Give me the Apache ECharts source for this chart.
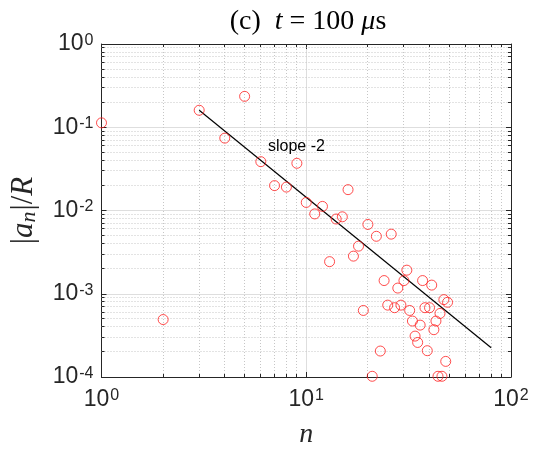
<!DOCTYPE html>
<html><head><meta charset="utf-8">
<script src="https://cdn.jsdelivr.net/npm/echarts@6/dist/echarts.min.js"></script>
<style>html,body{margin:0;padding:0;background:#fff}#c{width:534px;height:456px}</style>
</head><body><div id="c"></div>
<script>
// ---- data ----
const modeN = [1,2,3,4,5,6,7,8,9,10,11,12,13,14,15,16,17,18,19,20,21,22,23,24,25,26,27,28,29,30,31,32,33,34,35,36,37,38,39,40,41,42,43,44,45,46,47,48,49];
const amplitude = [0.113,0.00049,0.16,0.074,0.235,0.0386,0.0199,0.0191,0.0369,0.0125,0.0091,0.0112,0.00243,0.0079,0.0084,0.0178,0.00283,0.00373,0.00063,0.0068,0.000102,0.0049,0.000205,0.00144,0.00073,0.0052,0.00068,0.00117,0.00073,0.00144,0.00192,0.00063,0.00047,0.00031,0.00026,0.00042,0.00144,0.00068,0.000207,0.00068,0.00127,0.00037,0.00047,0.000102,0.00058,0.000102,0.00085,0.000154,0.00079];
const slopeN = [3, 80];
const slopeA = [0.16, 0.000225];
const slopeLabel = 'slope -2';
const slopeLabelAt = [6.5, 0.058];
const xTickValues = [1, 10, 100];
const xTickExp = ['0', '1', '2'];
const yTickValues = [1e-4, 1e-3, 1e-2, 1e-1, 1];
const yTickExp = ['-4', '-3', '-2', '-1', '0'];
const xMinor = [2,3,4,5,6,7,8,9,20,30,40,50,60,70,80,90];
const yMinor = [2e-4,3e-4,4e-4,5e-4,6e-4,7e-4,8e-4,9e-4,2e-3,3e-3,4e-3,5e-3,6e-3,7e-3,8e-3,9e-3,2e-2,3e-2,4e-2,5e-2,6e-2,7e-2,8e-2,9e-2,0.2,0.3,0.4,0.5,0.6,0.7,0.8,0.9];
const X_MIN = 1, X_MAX = 100, Y_MIN = 1e-4, Y_MAX = 1;

// ---- styles ----
const AX = '#262626';
const SANS = 'Liberation Sans';
const SERIF = 'Liberation Serif';
const tickRich = {
  b: {fontSize: 23, fontFamily: SANS, color: AX, lineHeight: 23, verticalAlign: 'bottom'},
  s: {fontSize: 16, fontFamily: SANS, color: AX, lineHeight: 16, verticalAlign: 'top', padding: [0, 0, 12, 1]}
};
function fmt(values, exps) {
  return function (v) {
    let idx = 0, best = Infinity;
    values.forEach((t, i) => { const d = Math.abs(Math.log10(t) - Math.log10(v)); if (d < best) { best = d; idx = i; } });
    return '{b|10}{s|' + exps[idx] + '}';
  };
}
const snap = v => Math.round(v - 0.5) + 0.5;

function minorRender(isX) {
  return function (params, api) {
    const v = api.value(isX ? 0 : 1);
    let p1, p2;
    if (isX) { p1 = api.coord([v, Y_MIN]); p2 = api.coord([v, Y_MAX]); }
    else { p1 = api.coord([X_MIN, v]); p2 = api.coord([X_MAX, v]); }
    const c = isX ? snap(p1[0]) : snap(p1[1]);
    const children = [];
    if (isX) {
      children.push({type: 'line', shape: {x1: c, y1: p1[1], x2: c, y2: p2[1]}, style: {stroke: '#c6c6c6', lineWidth: 1, lineDash: [1, 2]}});
      children.push({type: 'line', shape: {x1: c, y1: p1[1], x2: c, y2: p1[1] - 3}, style: {stroke: AX, lineWidth: 1}});
      children.push({type: 'line', shape: {x1: c, y1: p2[1], x2: c, y2: p2[1] + 3}, style: {stroke: AX, lineWidth: 1}});
    } else {
      children.push({type: 'line', shape: {x1: p1[0], y1: c, x2: p2[0], y2: c}, style: {stroke: '#c6c6c6', lineWidth: 1, lineDash: [1, 2]}});
      children.push({type: 'line', shape: {x1: p1[0], y1: c, x2: p1[0] + 3, y2: c}, style: {stroke: AX, lineWidth: 1}});
      children.push({type: 'line', shape: {x1: p2[0], y1: c, x2: p2[0] - 3, y2: c}, style: {stroke: AX, lineWidth: 1}});
    }
    return {type: 'group', children};
  };
}

const axisCommon = {
  type: 'log', logBase: 10,
  axisLine: {show: true, onZero: false, lineStyle: {color: AX, width: 1}},
  axisTick: {show: true, inside: true, length: 5, lineStyle: {color: AX, width: 1}},
  minorTick: {show: false}, minorSplitLine: {show: false}
};

const TF = 28;
const chart = echarts.init(document.getElementById('c'), null, {renderer: 'canvas'});
chart.setOption({
  animation: false,
  backgroundColor: '#ffffff',
  title: {
    text: '{r|(c)  }{i|t}{r| = 100 }{i|μ}{r|s}',
    left: 303, top: 3, textAlign: 'center',
    textStyle: {
      fontWeight: 'normal',
      rich: {
        r: {fontSize: TF, fontFamily: SERIF, fontWeight: 'normal', color: '#000'},
        i: {fontSize: TF, fontFamily: SERIF, fontWeight: 'normal', fontStyle: 'italic', color: '#000'}
      }
    }
  },
  grid: {left: 101, right: 23, top: 44, bottom: 79},
  xAxis: [
    Object.assign({}, axisCommon, {
      min: X_MIN, max: X_MAX, position: 'bottom',
      axisLabel: {show: true, margin: 11, formatter: fmt(xTickValues, xTickExp), rich: tickRich},
      splitLine: {show: true, lineStyle: {color: '#dedede', width: 1}},
      name: 'n', nameLocation: 'middle', nameGap: 44,
      nameTextStyle: {fontFamily: SERIF, fontStyle: 'italic', fontSize: 28, color: AX}
    }),
    Object.assign({}, axisCommon, {
      min: X_MIN, max: X_MAX, position: 'top',
      axisLabel: {show: false}, splitLine: {show: false}
    })
  ],
  yAxis: [
    Object.assign({}, axisCommon, {
      min: Y_MIN, max: Y_MAX, position: 'left',
      axisLabel: {show: true, margin: 8, formatter: fmt(yTickValues, yTickExp), rich: tickRich},
      splitLine: {show: true, lineStyle: {color: '#dedede', width: 1}},
      name: '{r||}{i|a}{sub|n}{r||/}{i|R}', nameLocation: 'middle', nameGap: 61, nameRotate: 90,
      nameTextStyle: {
        rich: {
          r: {fontFamily: SERIF, fontSize: 31, color: AX},
          i: {fontFamily: SERIF, fontSize: 31, fontStyle: 'italic', color: AX},
          sub: {fontFamily: SERIF, fontSize: 22, fontStyle: 'italic', color: AX, verticalAlign: 'bottom', padding: [12, 1, 0, 0]}
        }
      }
    }),
    Object.assign({}, axisCommon, {
      min: Y_MIN, max: Y_MAX, position: 'right',
      axisLabel: {show: false}, splitLine: {show: false}
    })
  ],
  series: [
    {
      type: 'custom', name: 'minorX', silent: true, z: 1, clip: false,
      xAxisIndex: 0, yAxisIndex: 0,
      data: xMinor.map(v => [v, Y_MIN]), encode: {x: 0, y: 1},
      renderItem: minorRender(true)
    },
    {
      type: 'custom', name: 'minorY', silent: true, z: 1, clip: false,
      xAxisIndex: 0, yAxisIndex: 0,
      data: yMinor.map(v => [X_MIN, v]), encode: {x: 0, y: 1},
      renderItem: minorRender(false)
    },
    {
      type: 'line', name: 'slope', silent: true, z: 3,
      data: slopeN.map((n, i) => [n, slopeA[i]]),
      showSymbol: false, symbol: 'none',
      lineStyle: {color: '#000', width: 1.2},
      markPoint: {
        symbol: 'circle', symbolSize: 0, silent: true,
        label: {show: true, position: 'right', distance: 0, formatter: slopeLabel, color: '#000', fontFamily: SANS, fontSize: 16},
        data: [{coord: slopeLabelAt}]
      }
    },
    {
      type: 'scatter', name: 'modes', z: 4,
      data: modeN.map((n, i) => [n, amplitude[i]]),
      symbol: 'circle', symbolSize: 10,
      itemStyle: {color: 'rgba(0,0,0,0)', borderColor: '#ff2020', borderWidth: 1}
    }
  ]
});
</script>
</body></html>
